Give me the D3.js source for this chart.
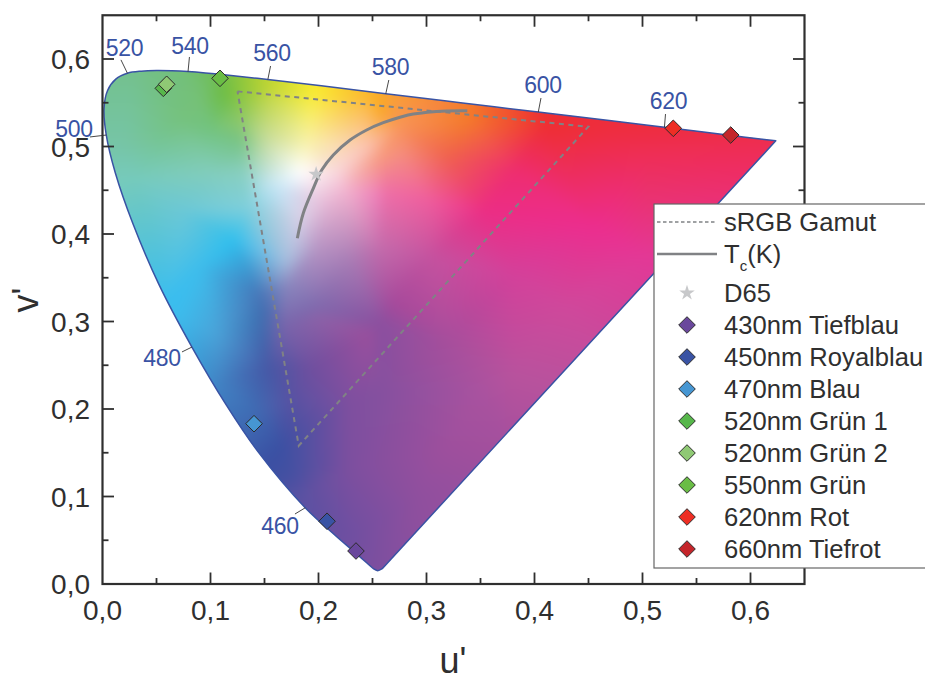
<!DOCTYPE html>
<html><head><meta charset="utf-8">
<script src="https://cdn.jsdelivr.net/npm/d3@7/dist/d3.min.js"></script>
<style>html,body{margin:0;background:#fff}svg{display:block;font-family:"Liberation Sans",Arial,sans-serif}</style>
</head><body><svg id="c" width="925" height="675"></svg>
<script>
const locusU=[.6234,.6109,.5830,.5565,.5203,.4692,.4035,.3315,.2623,.2026,.1531,.1127,.0953,.0792,.0643,.0501,.0360,.0231,.0123,.0046,.0014,.0035,.0119,.0282,.0521,.0828,.1147,.1441,.1877,.2161,.2347,.2461,.2515,.2548,.2590];
const locusV=[.5065,.5084,.5125,.5165,.5219,.5296,.5393,.5501,.5604,.5694,.5766,.5821,.5841,.5856,.5865,.5868,.5861,.5837,.5770,.5638,.5432,.5131,.4698,.4117,.3427,.2708,.2044,.1510,.0871,.0549,.0350,.0226,.0170,.0152,.0175];
const gamutU=[.125,.4498,.1817,.125];
const gamutV=[.563,.5226,.158,.563];
const tcU=[.1804,.1859,.1952,.2030,.2137,.2292,.2446,.2600,.2755,.2878,.3187,.3378];
const tcV=[.3951,.4237,.4522,.4731,.4903,.5074,.5189,.5272,.5334,.5371,.5406,.5409];
const waveLabels=["520","540","560","580","600","620","500","480","460"];
const waveTickU=[.0231,.0792,.1531,.2623,.4035,.5203,.0035,.0828,.1877];
const waveTickV=[.5837,.5856,.5766,.5604,.5393,.5219,.5131,.2708,.0871];
const waveLeadU=[.0171,.0805,.1556,.2651,.4060,.5213,-.0116,.0736,.1782];
const waveLeadV=[.5990,.6023,.5920,.5760,.5554,.5371,.5109,.2652,.0800];
const waveTextU=[.0204,.0810,.1569,.2667,.4079,.5241,-.0264,.0551,.1644];
const waveTextV=[.6126,.6160,.6080,.5915,.5703,.5526,.5211,.2583,.0674];
const ledNames=["430nm Tiefblau","450nm Royalblau","470nm Blau","520nm Grün 1","520nm Grün 2","550nm Grün","620nm Rot","660nm Tiefrot"];
const ledU=[.2347,.2079,.1403,.0563,.0594,.1088,.5285,.5817];
const ledV=[.0377,.0717,.1832,.5665,.5711,.5779,.5208,.5131];
const ledColor=["#6a479c","#3953a4","#4696d2","#57b74b","#8fc974","#6abd45","#ee2e24","#c4252a"];
const d65=[.1978,.4683];
const xTicks=[0,.1,.2,.3,.4,.5,.6];
const yTicks=[0,.1,.2,.3,.4,.5,.6];
const minorTicks=[.05,.15,.25,.35,.45,.55,.65];
const gradU=[-.05,.03,.07,.105,.15,.195,.26,.34,.41,.68,
 .1119,.152,.1952,.2446,.257,.337,.411,.473,
 -.05,.02,.07,.127,.127,.152,.189,.2446,.2755,.2755,.257,.3187,.38,.504,.62,
 .183,.152,.164,.102,
 -.05,.0285,.075,.1212,.0903,.0687,.06,
 .1443,.148,.1705,.183,.2,.224,.26,.1983,.229,.269,.198,.1705,
 .257,.303,.353,.4545,.5038,.68,.257,.303,.38,.4265,.257,.319,.38,.349,.257,
 .1057,.1459,.152,.1057,.14,.1643,.1736,.192,.1736,.183,.229,.229,.2569,.291,.3156,.1674,.198,.2446,.3156,.229,
 .68,.68,.5,.38,.12,.2,.3,.68,
 .09,.1,.13,.135,.215];
const gradV=[.62,.6,.6,.6,.6,.6,.58,.57,.55,.52,
 .5588,.570,.5626,.5589,.5417,.5303,.5227,.519,
 .5,.5,.53,.504,.534,.5075,.5075,.5,.5244,.4925,.488,.488,.473,.488,.47,
 .4713,.458,.45,.47,
 .43,.465,.428,.393,.3626,.305,.321,
 .332,.31,.37,.416,.44,.45,.4466,.385,.370,.321,.317,.34,
 .446,.439,.427,.4084,.374,.39,.382,.374,.3552,.3169,.298,.2789,.240,.222,.222,
 .2865,.3056,.2484,.2294,.199,.1571,.2103,.2484,.1265,.1,.1342,.0579,.0235,.1,.153,.294,.3056,.2865,.313,.21,
 .3,.1,.2,.15,.1,-.03,-.03,-.03,
 .55,.52,.47,.43,.47];
const gradColor=["#7cc3a0","#73c08a","#72bf7a","#6dbd50","#bcd432","#f9ec31","#f9a825","#f47b2b","#ee2e33","#ee2d4a",
"#6dbd45","#bcd432","#f9ec31","#fbb82e","#f9a825","#f47b2b","#ee2e33","#ee2d3f",
"#76c5a7","#76c5a7","#75c27f","#78c488","#8cc763","#c8dd9e","#f9f2a6","#fbc4b4","#f89456","#f58e7e","#f7997e","#f0614f","#ee2d6f","#ee2e58","#ee2c66",
"#ffffff","#bfe3ee","#c6e4f5","#82cdbd",
"#74cbc4","#76cabb","#6cc8d6","#2fbfee","#3dbdec","#3cbced","#38bdf0",
"#4576b8","#3f6bb0","#a7bede","#d8cfe6","#e9c5de","#f2b4d0","#ee6fa8","#b895c4","#a87cb5","#a6499b","#7f69ad","#8985bd",
"#ee7bb6","#ef5c9d","#ec2d84","#ec2d8e","#e33896","#e03590","#c26aab","#c4529f","#d4409a","#cf489b","#8a4f9f","#a64e9c","#b8529d","#a9529f","#85509f",
"#4aa2d8","#3e6fb1","#4558a6","#4183c4","#3f6cb4","#3a50a3","#5752a3","#6f4f9f","#4450a2","#5a51a2","#7d4f9f","#6f4fa1","#7e4f9f","#8f4f9e","#9d4f9d","#7864ab","#8c62a8","#9a4f9d","#b44d9c","#7f4f9f",
"#d8409a","#b0509e","#b8529d","#a44f9d","#3a50a3","#6f4fa1","#8a4f9f","#b04fa0",
"#75c177","#72c37f","#88cfc0","#7fcfdc","#f9d9e0"];

const W=925,H=675;
const x=d3.scaleLinear().domain([0,.65]).range([102.5,804.5]);
const y=d3.scaleLinear().domain([0,.65]).range([584,15.25]);
const svg=d3.select("#c");
const ink="#2f2f2f", blue="#3953a4", gray="#808285";

// colour field: triangulate the read colour anchors
const pts=gradU.map((u,i)=>[x(u),y(gradV[i])]);
const rgb=gradColor.map(c=>d3.rgb(c));
const del=d3.Delaunay.from(pts);
const cv=document.createElement("canvas");cv.width=W;cv.height=H;
const ctx=cv.getContext("2d");
const img=ctx.createImageData(W,H);
const t=del.triangles;
for(let k=0;k<t.length;k+=3){
  const [a,b,c]=[t[k],t[k+1],t[k+2]];
  const [ax,ay]=pts[a],[bx,by]=pts[b],[cx,cy]=pts[c];
  const den=(by-cy)*(ax-cx)+(cx-bx)*(ay-cy);
  const x0=Math.max(0,Math.floor(Math.min(ax,bx,cx))),x1=Math.min(W-1,Math.ceil(Math.max(ax,bx,cx)));
  const y0=Math.max(0,Math.floor(Math.min(ay,by,cy))),y1=Math.min(H-1,Math.ceil(Math.max(ay,by,cy)));
  for(let py=y0;py<=y1;py++)for(let px=x0;px<=x1;px++){
    const l1=((by-cy)*(px-cx)+(cx-bx)*(py-cy))/den;
    const l2=((cy-ay)*(px-cx)+(ax-cx)*(py-cy))/den;
    const l3=1-l1-l2;
    if(l1<-.001||l2<-.001||l3<-.001)continue;
    const i=(py*W+px)*4;
    img.data[i]=l1*rgb[a].r+l2*rgb[b].r+l3*rgb[c].r;
    img.data[i+1]=l1*rgb[a].g+l2*rgb[b].g+l3*rgb[c].g;
    img.data[i+2]=l1*rgb[a].b+l2*rgb[b].b+l3*rgb[c].b;
    img.data[i+3]=255;
  }
}
ctx.putImageData(img,0,0);
const cv2=document.createElement("canvas");cv2.width=W;cv2.height=H;
const c2=cv2.getContext("2d");c2.filter="blur(6px)";c2.drawImage(cv,0,0);

const locusPts=locusU.map((u,i)=>[u,locusV[i]]);
const line=d3.line().x(d=>x(d[0])).y(d=>y(d[1]));
const locusPath=line.curve(d3.curveCatmullRom.alpha(.5))(locusPts)+"Z";
line.curve(d3.curveLinear);
svg.append("defs").append("clipPath").attr("id","loc").append("path").attr("d",locusPath);
svg.append("image").attr("href",cv2.toDataURL()).attr("width",W).attr("height",H).attr("clip-path","url(#loc)");
svg.append("path").attr("d",locusPath).attr("fill","none").attr("stroke",blue).attr("stroke-width",1.5).attr("stroke-linejoin","round");

// frame + ticks
const frame=svg.append("g").attr("stroke",ink).attr("fill","none");
frame.append("rect").attr("x",x(0)).attr("y",y(.65)).attr("width",x(.65)-x(0)).attr("height",y(0)-y(.65)).attr("stroke-width",2.2);
const tick=(vals,len)=>{
  vals.forEach(v=>{
    if(v>0&&v<.65){
      frame.append("line").attr("x1",x(v)).attr("x2",x(v)).attr("y1",y(0)).attr("y2",y(0)-len).attr("stroke-width",1.8);
      frame.append("line").attr("x1",x(v)).attr("x2",x(v)).attr("y1",y(.65)).attr("y2",y(.65)+len).attr("stroke-width",1.8);
      frame.append("line").attr("y1",y(v)).attr("y2",y(v)).attr("x1",x(0)).attr("x2",x(0)+len).attr("stroke-width",1.8);
      frame.append("line").attr("y1",y(v)).attr("y2",y(v)).attr("x1",x(.65)).attr("x2",x(.65)-len).attr("stroke-width",1.8);
    }
  });
};
tick(xTicks,11.5);tick(minorTicks,6);
const fmt=v=>v.toFixed(1).replace(".",",");
svg.append("g").selectAll("text").data(xTicks).join("text").attr("x",d=>x(d)).attr("y",620).attr("text-anchor","middle").attr("font-size",28).attr("fill",ink).text(fmt);
svg.append("g").selectAll("text").data(yTicks).join("text").attr("x",90).attr("y",d=>y(d)+10).attr("text-anchor","end").attr("font-size",28).attr("fill",ink).text(fmt);
svg.append("text").attr("x",453).attr("y",672.5).attr("text-anchor","middle").attr("font-size",36).attr("fill",ink).text("u'");
svg.append("text").attr("transform","translate(37.5,300) rotate(-90)").attr("text-anchor","middle").attr("font-size",36).attr("fill",ink).text("v'");

// wavelength labels
svg.append("g").selectAll("line").data(waveLabels).join("line")
  .attr("x1",(d,i)=>x(waveTickU[i])).attr("y1",(d,i)=>y(waveTickV[i]))
  .attr("x2",(d,i)=>x(waveLeadU[i])).attr("y2",(d,i)=>y(waveLeadV[i]))
  .attr("stroke","#333").attr("stroke-width",.9);
svg.append("g").selectAll("text").data(waveLabels).join("text")
  .attr("x",(d,i)=>x(waveTextU[i])).attr("y",(d,i)=>y(waveTextV[i])+8.5)
  .attr("text-anchor","middle").attr("font-size",23).attr("fill",blue).attr("letter-spacing",-.3).text(d=>d);

// gamut, Tc
svg.append("path").attr("d",line(gamutU.map((u,i)=>[u,gamutV[i]]))).attr("fill","none").attr("stroke",gray).attr("stroke-width",2).attr("stroke-dasharray","5,4.5");
svg.append("path").attr("d",d3.line().x(d=>x(d[0])).y(d=>y(d[1])).curve(d3.curveCatmullRom.alpha(.5))(tcU.map((u,i)=>[u,tcV[i]]))).attr("fill","none").attr("stroke",gray).attr("stroke-width",3);

// markers
const diamond="M0,-8.3L8.3,0L0,8.3L-8.3,0Z";
const star=d3.symbol().type(d3.symbolStar).size(75)();
svg.append("path").attr("d",star).attr("fill","#c7c8ca").attr("transform",`translate(${x(d65[0])},${y(d65[1])})`);
const ledOrder=[0,1,2,3,4,5,6,7];
svg.append("g").selectAll("path").data(ledOrder).join("path").attr("d",diamond)
  .attr("transform",i=>`translate(${x(ledU[i])},${y(ledV[i])})`)
  .attr("fill",i=>ledColor[i]).attr("stroke","#2b2b2b").attr("stroke-width",1);

// legend
const lg=svg.append("g");
lg.append("rect").attr("x",654).attr("y",204).attr("width",280).attr("height",364).attr("fill","#fff").attr("stroke","#666").attr("stroke-width",1.2);
const lx=724, fs=25.6;
const rowY=[222,254,293,325,357,389,421,453,485,517,549];
const lt=(s,yy)=>lg.append("text").attr("x",lx).attr("y",yy+9).attr("font-size",fs).attr("fill",ink).text(s);
lg.append("line").attr("x1",657).attr("x2",717).attr("y1",rowY[0]).attr("y2",rowY[0]).attr("stroke",gray).attr("stroke-width",1.6).attr("stroke-dasharray","3.5,2.5");
lt("sRGB Gamut",rowY[0]);
lg.append("line").attr("x1",657).attr("x2",717).attr("y1",rowY[1]).attr("y2",rowY[1]).attr("stroke",gray).attr("stroke-width",2.4);
const tc=lt("T",rowY[1]);
tc.append("tspan").attr("font-size",15).attr("dy",8).text("c");
tc.append("tspan").attr("dy",-8).text("(K)");
lg.append("path").attr("d",star).attr("fill","#c7c8ca").attr("transform",`translate(687,${rowY[2]})`);
lt("D65",rowY[2]);
ledNames.forEach((n,i)=>{
  lg.append("path").attr("d",diamond).attr("fill",ledColor[i]).attr("stroke","#2b2b2b").attr("stroke-width",1).attr("transform",`translate(687,${rowY[i+3]})`);
  lt(n,rowY[i+3]);
});
</script></body></html>
